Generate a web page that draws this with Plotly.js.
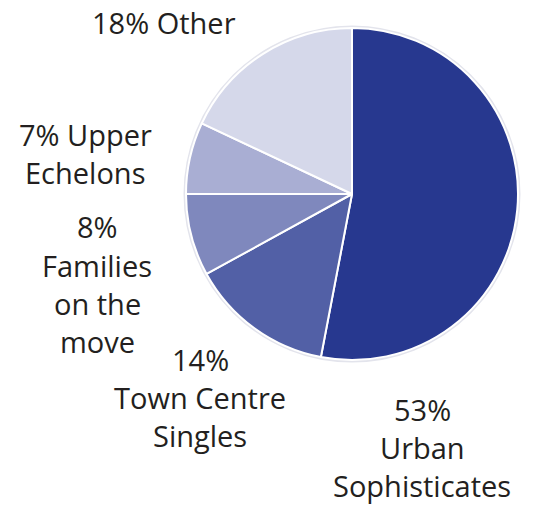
<!DOCTYPE html>
<html><head><meta charset="utf-8">
<script src="https://cdn.plot.ly/plotly-3.0.1.min.js"></script>
<style>html,body{margin:0;padding:0;background:#fff}#c{width:533px;height:505px}</style>
</head><body><div id="c"></div>
<script>
const categories = ["Urban Sophisticates", "Town Centre Singles", "Families on the move", "Upper Echelons", "Other"];
const values = [53, 14, 8, 7, 18];
const labelTexts = ["53%<br>Urban<br>Sophisticates", "14%<br>Town Centre<br>Singles", "8%<br>Families<br>on the<br>move", "7% Upper<br>Echelons", "18% Other"];
const colors = ["#27388f", "#5260a6", "#7f88bd", "#a9aed3", "#d5d8ea"];
// [center x, first-line y] in pixels
const labelPos = [[422, 409], [200, 359], [97, 227], [85, 134], [164, 22]];
const lineGap = 38;

const W = 533, H = 505;
const annotations = [];
labelTexts.forEach((t, i) => {
  t.split("<br>").forEach((line, j) => {
    annotations.push({
      text: line, xref: "paper", yref: "paper",
      x: labelPos[i][0] / W, y: 1 - (labelPos[i][1] + j * lineGap) / H,
      xanchor: "center", yanchor: "middle", showarrow: false, align: "center",
      font: {family: "'Open Sans', sans-serif", size: 29, color: "#231f20"}
    });
  });
});

const dom = {x: [186 / W, 518 / W], y: [1 - 361 / H, 1 - 27 / H]};
const total = values.reduce((a, b) => a + b, 0);

Plotly.newPlot("c", [{
  type: "pie", labels: ["all"], values: [total], sort: false,
  marker: {colors: ["rgba(0,0,0,0)"], line: {color: "#e3e4ec", width: 5}},
  textinfo: "none", hoverinfo: "skip", domain: dom
}, {
  type: "pie", labels: categories, values: values, sort: false,
  direction: "clockwise", rotation: 0,
  marker: {colors: colors, line: {color: "#ffffff", width: 2}},
  textinfo: "none", hoverinfo: "label+percent",
  domain: dom
}], {
  width: W, height: H, margin: {l: 0, r: 0, t: 0, b: 0},
  showlegend: false, paper_bgcolor: "#ffffff",
  annotations: annotations
}, {displayModeBar: false, staticPlot: true});
</script></body></html>
